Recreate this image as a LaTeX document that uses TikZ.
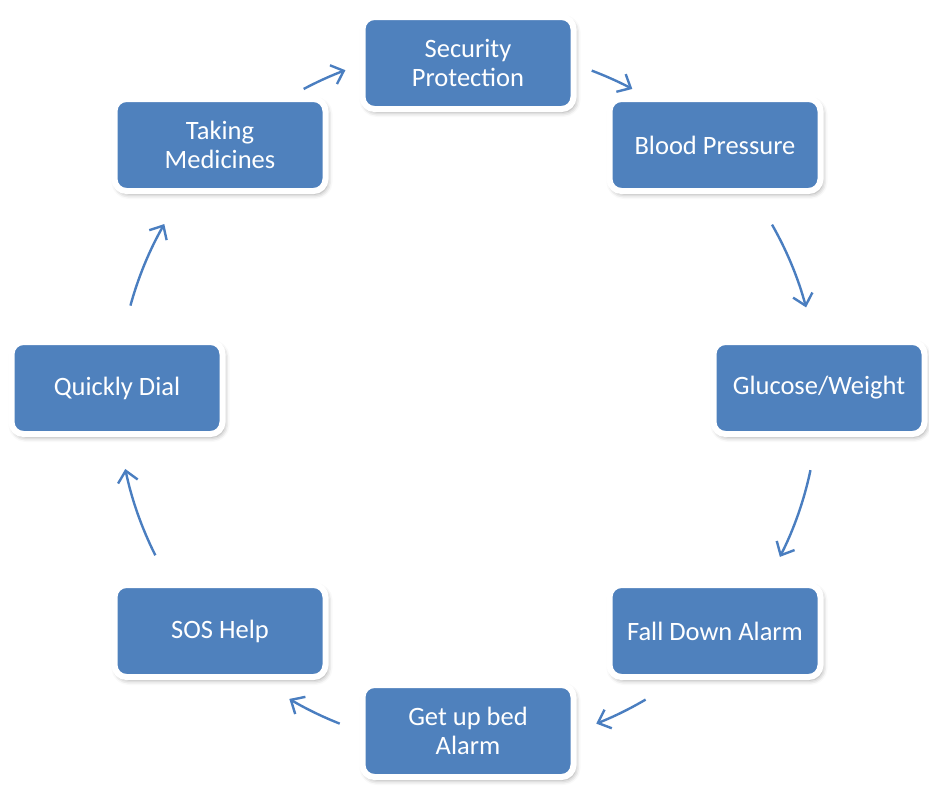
\documentclass[tikz,border=0pt]{standalone}
\usepackage{fontspec}
\setmainfont{Carlito}
\usetikzlibrary{arrows.meta,shadows.blur,calc}
\definecolor{boxblue}{HTML}{4F81BD}
\definecolor{arrowblue}{HTML}{4A7EC0}
\tikzset{
  box/.style={rectangle, rounded corners=12pt, fill=boxblue, draw=white, line width=6pt,
    minimum width=211pt, minimum height=92pt, align=center, text=white,
    font=\fontsize{26.5}{29}\selectfont,
    blur shadow={shadow xshift=2pt, shadow yshift=-3pt, shadow blur radius=5pt, shadow opacity=40}},
  cyc/.style={draw=arrowblue, line width=2.4pt, -{Straight Barb[length=11pt,width=20pt,line width=2.4pt]}}
}
\begin{document}
\begin{tikzpicture}[x=1pt,y=-1pt]
\useasboundingbox (0,0) rectangle (929,787);
\node[box] (sec) at (468,63) {Security\\Protection};
\node[box] (bp) at (715,145) {Blood Pressure};
\node[box] (glu) at (819,388) {Glucose/Weight};
\node[box] (fall) at (715,631) {Fall Down Alarm};
\node[box] (bed) at (468,731) {Get up bed\\Alarm};
\node[box] (sos) at (220,631) {SOS Help};
\node[box] (dial) at (117,388) {Quickly Dial};
\node[box] (med) at (220,145) {Taking\\Medicines};
\coordinate (c) at (468,398);
\begin{scope}[y=1pt]
\foreach \s/\e in {118/110.5, 69.3/62, 29.7/15, -11.9/-27, -59.5/-68.5, -111.5/-120.7, -153.3/-168.3, 164.7/150.2}{
  \coordinate (st) at ($(c)+(\s:350)$);
  \draw[cyc] (st) arc[start angle=\s, end angle=\e, radius=350];
}
\end{scope}
\end{tikzpicture}
\end{document}
